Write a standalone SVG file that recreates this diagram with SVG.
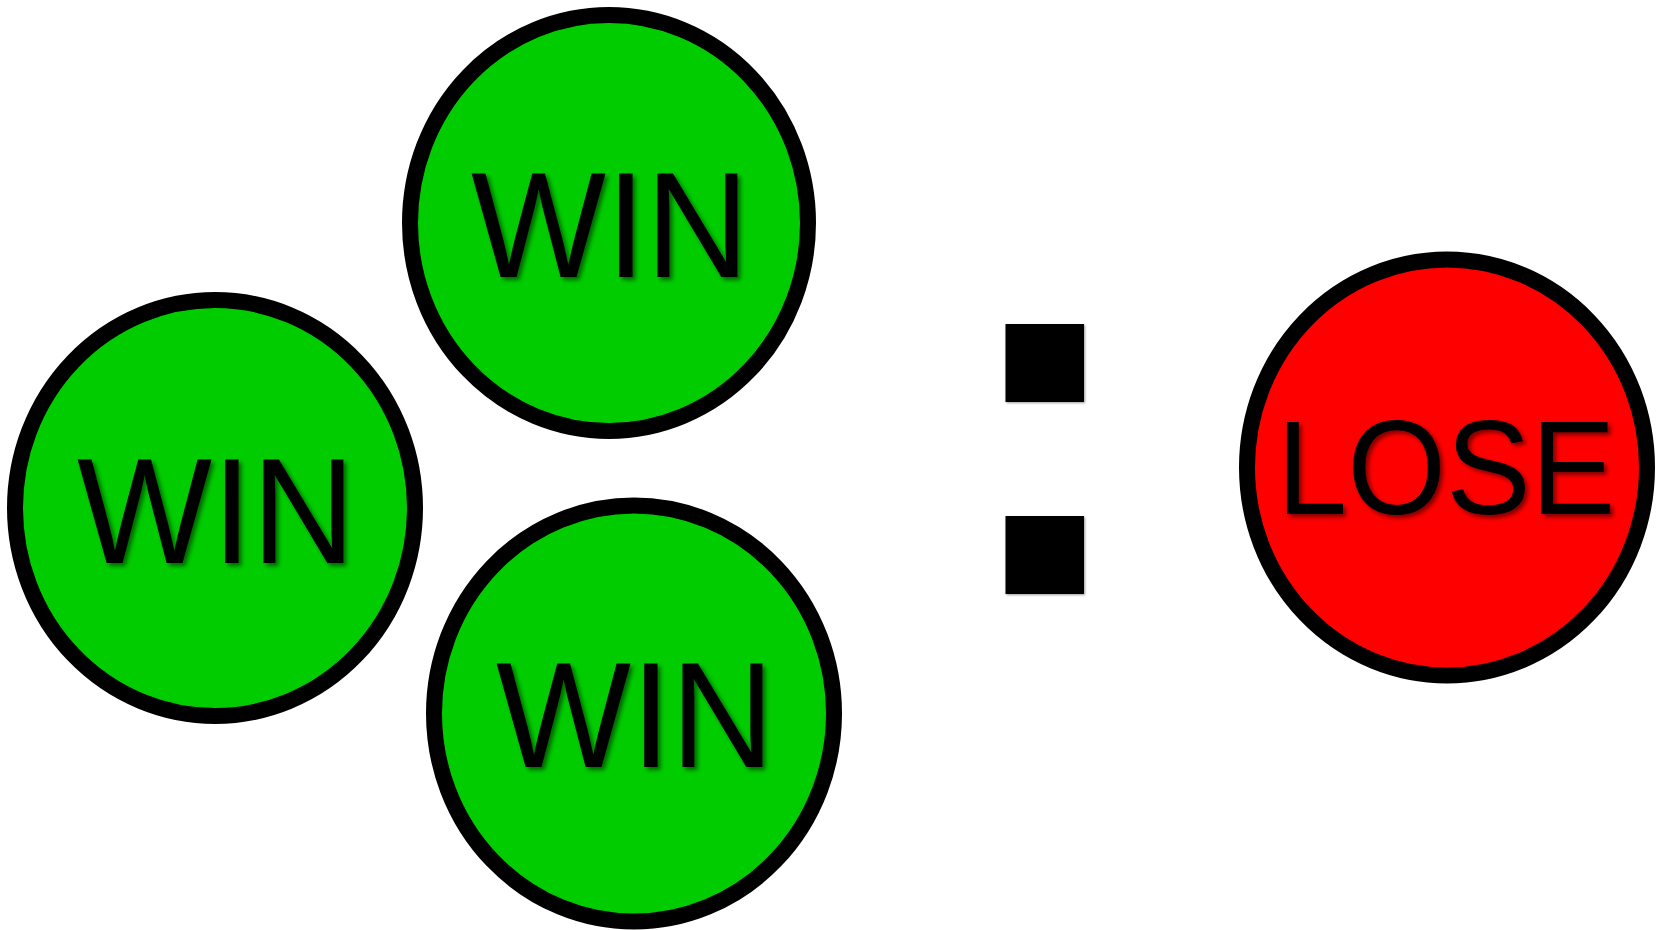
<svg xmlns="http://www.w3.org/2000/svg" width="1659" height="930" viewBox="0 0 1659 930">
<defs>
<filter id="sh" x="-10%" y="-10%" width="130%" height="130%">
<feGaussianBlur in="SourceAlpha" stdDeviation="2"/>
<feOffset dx="3" dy="3" result="b"/>
<feFlood flood-color="#000" flood-opacity="0.5"/>
<feComposite in2="b" operator="in"/>
<feMerge><feMergeNode/><feMergeNode in="SourceGraphic"/></feMerge>
</filter>
<filter id="sq" x="-10%" y="-10%" width="130%" height="130%">
<feGaussianBlur in="SourceAlpha" stdDeviation="0.8"/>
<feOffset dx="1" dy="1" result="b"/>
<feFlood flood-color="#000" flood-opacity="0.4"/>
<feComposite in2="b" operator="in"/>
<feMerge><feMergeNode/><feMergeNode in="SourceGraphic"/></feMerge>
</filter>
</defs>
<style>
.win{fill:#00CC00;stroke:#000;stroke-width:16}
.lose{fill:#FF0000;stroke:#000;stroke-width:16}
.t{font-family:"Liberation Sans",Arial,sans-serif;fill:#000;text-anchor:middle;filter:url(#sh)}
.w{font-size:151px}
.l{font-size:134px}
.dot{fill:#000;filter:url(#sq)}
</style>
<rect width="1659" height="930" fill="#fff"/>
<g id="win-top">
<ellipse class="win" cx="609" cy="223" rx="199" ry="208"/>
<text class="t w" x="610" y="277" textLength="278" lengthAdjust="spacingAndGlyphs">WIN</text>
</g>
<g id="win-left">
<ellipse class="win" cx="215" cy="508" rx="200" ry="208"/>
<text class="t w" x="216" y="563" textLength="278" lengthAdjust="spacingAndGlyphs">WIN</text>
</g>
<g id="win-bottom">
<ellipse class="win" cx="634" cy="713.5" rx="200" ry="208"/>
<text class="t w" x="635" y="767" textLength="278" lengthAdjust="spacingAndGlyphs">WIN</text>
</g>
<g id="colon">
<rect class="dot" x="1005.5" y="324" width="78.5" height="78"/>
<rect class="dot" x="1005.5" y="516" width="78.5" height="78"/>
</g>
<g id="lose">
<ellipse class="lose" cx="1447" cy="467.5" rx="200" ry="208"/>
<text class="t l" x="1446" y="514" textLength="339" lengthAdjust="spacingAndGlyphs">LOSE</text>
</g>
<g id="connectors"></g>
</svg>
